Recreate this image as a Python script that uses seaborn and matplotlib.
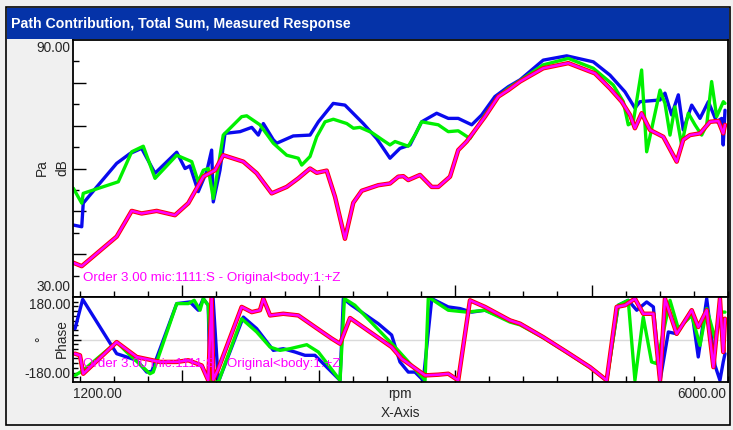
import matplotlib
matplotlib.use("Agg")
import matplotlib.pyplot as plt
import seaborn as sns
import numpy as np
from matplotlib.patches import Rectangle
from matplotlib.ticker import MultipleLocator, FixedLocator, NullFormatter

# ---------------- data ----------------
# Level (dB) panel
blue_rpm = [1202, 1264, 1275, 1374, 1520, 1618, 1703, 1801, 1960, 2021, 2057, 2118, 2180, 2216, 2228, 2277,
            2314, 2424, 2510, 2558, 2595, 2668, 2693, 2814, 2937, 2998, 3107, 3193, 3327, 3425, 3523, 3596,
            3670, 3755, 3865, 3950, 4023, 4122, 4195, 4292, 4390, 4476, 4646, 4818, 5013, 5135, 5245, 5318,
            5355, 5502, 5538, 5587, 5636, 5672, 5734, 5795, 5856, 5917, 5954, 5965, 5978]
blue_db = [46.8, 46.4, 51.9, 55.7, 61.2, 63.5, 64.7, 58.9, 63.8, 60.0, 60.6, 54.6, 59.3, 64.3, 52.2, 59.6,
           68.2, 68.6, 69.6, 67.8, 70.5, 66.7, 65.9, 67.6, 67.8, 70.9, 75.2, 74.8, 70.5, 67.0, 62.4, 64.7,
           65.5, 70.9, 72.9, 71.7, 71.7, 70.2, 72.5, 76.8, 79.1, 80.7, 85.3, 86.3, 84.9, 81.8, 77.9, 74.1,
           75.6, 76.0, 77.6, 72.5, 77.2, 69.0, 74.8, 71.7, 75.6, 70.9, 71.7, 65.5, 73.6]

green_rpm = [1202, 1264, 1275, 1532, 1630, 1715, 1801, 1960, 2070, 2118, 2155, 2191, 2228, 2301, 2436, 2473,
             2570, 2668, 2766, 2851, 2876, 2937, 2986, 3047, 3108, 3206, 3255, 3303, 3389, 3462, 3523, 3560,
             3657, 3706, 3755, 3877, 3950, 4023, 4109, 4219, 4317, 4390, 4476, 4646, 4830, 5013, 5159, 5233,
             5269, 5306, 5367, 5404, 5502, 5538, 5575, 5611, 5660, 5709, 5758, 5807, 5844, 5880, 5917, 5966, 5978]
green_db = [55.4, 51.9, 54.2, 56.9, 63.9, 65.2, 57.7, 63.1, 61.6, 56.9, 59.6, 60.0, 53.0, 67.8, 72.1, 72.3,
            70.2, 65.9, 63.1, 62.4, 60.8, 62.8, 67.4, 70.9, 71.5, 70.5, 69.4, 69.6, 68.4, 66.8, 65.5, 66.3,
            65.2, 67.8, 70.9, 70.2, 68.6, 68.8, 67.0, 72.5, 76.8, 78.7, 80.5, 84.2, 85.7, 83.4, 79.5, 75.6,
            70.2, 70.9, 83.0, 63.9, 78.3, 75.2, 67.8, 74.4, 65.5, 72.9, 70.2, 67.8, 70.2, 80.3, 72.1, 75.6, 75.2]

pink_rpm = [1202, 1264, 1520, 1630, 1703, 1813, 1947, 2045, 2155, 2241, 2301, 2448, 2546, 2656, 2766, 2851,
            2937, 2986, 3059, 3120, 3193, 3254, 3316, 3437, 3523, 3584, 3621, 3657, 3743, 3829, 3877, 3963,
            4023, 4085, 4219, 4317, 4390, 4476, 4646, 4830, 5025, 5135, 5221, 5282, 5318, 5367, 5428, 5526,
            5624, 5672, 5721, 5795, 5868, 5929, 5965, 5978]
pink_db = [38.0, 37.2, 44.1, 50.1, 49.5, 50.1, 49.1, 51.9, 58.1, 59.6, 63.1, 61.6, 58.9, 54.2, 55.7, 57.7,
           60.0, 59.0, 59.5, 53.4, 43.6, 52.0, 54.8, 56.1, 56.5, 58.1, 58.2, 57.3, 58.5, 55.7, 55.7, 58.1,
           64.3, 66.3, 72.1, 76.8, 78.3, 80.3, 83.4, 84.6, 82.2, 78.7, 75.6, 72.5, 69.4, 72.9, 69.0, 67.4,
           61.6, 66.7, 67.8, 68.2, 70.9, 71.1, 68.2, 70.2]

# Phase (deg) panel
blue_ph_rpm = [1215, 1271, 1520, 1593, 1667, 1740, 1777, 1960, 2057, 2118, 2155, 2191, 2204, 2226, 2265, 2448,
               2546, 2668, 2741, 2827, 2900, 2973, 3157, 3181, 3242, 3437, 3535, 3596, 3657, 3706, 3767, 3829,
               3950, 4036, 4122, 4219, 4402, 4476, 4646, 4818, 4989, 5111, 5196, 5269, 5331, 5404, 5453, 5502,
               5563, 5624, 5734, 5782, 5844, 5905, 5941, 5965, 5978]
blue_ph = [46, 170, -60, -74, -88, -138, -135, 152, 159, 124, 173, 145, -180, 180, -180, 95,
           46, -46, -39, -53, -67, -67, -173, 173, 145, 67, 19, -95, -138, -138, -173, 173,
           138, 131, 116, 124, 81, 67, 10, -53, -117, -173, 145, 166, 124, 159, 138, -175,
           32, 24, 124, -74, 173, -110, -173, -95, -60]

green_ph_rpm = [1215, 1276, 1520, 1593, 1764, 1788, 1960, 2045, 2088, 2131, 2155, 2191, 2216, 2265, 2436, 2546,
                2644, 2717, 2790, 2913, 2998, 3157, 3189, 3266, 3560, 3780, 3804, 3950, 4085, 4219, 4402, 4476,
                4646, 4818, 4989, 5111, 5196, 5269, 5318, 5379, 5440, 5477, 5526, 5575, 5636, 5734, 5795, 5844,
                5905, 5941, 5978]
green_ph = [-152, -130, -11, -53, -145, -138, 152, 152, 166, 124, 173, 145, -180, -180, 88, 32,
            -32, -46, -39, -22, -53, -173, 173, 145, -32, -173, 180, 124, 116, 124, 74, 62,
            8, -55, -119, -173, 145, 166, -173, 95, -95, -102, 30, 166, 46, 102, -25, 131,
            4, 116, 116]

pink_ph_rpm = [1215, 1251, 1275, 1520, 1667, 1838, 1960, 2045, 2143, 2191, 2216, 2228, 2265, 2436, 2510, 2570,
               2595, 2644, 2741, 2851, 2973, 3096, 3157, 3230, 3535, 3608, 3780, 3877, 3950, 4023, 4109, 4219,
               4402, 4476, 4646, 4818, 4989, 5111, 5184, 5245, 5318, 5379, 5453, 5502, 5538, 5624, 5734, 5782,
               5844, 5893, 5941, 5965, 5978]
pink_ph = [-60, -67, -145, -11, -74, -95, -95, -88, -110, -173, 180, -170, -124, 138, 116, 124,
           173, 102, 109, 102, 53, 4, -18, 91, -32, -81, -152, -149, -145, -173, 166, 138,
           81, 67, 10, -53, -117, -173, 138, 145, 173, 109, 109, -173, 173, 24, 124, 53,
           124, -117, 173, -53, 88]

title_text = "Path Contribution, Total Sum, Measured Response"
legend_text = "Order 3.00 mic:1111:S - Original<body:1:+Z"
x_min, x_max = 1200, 6000
db_min, db_max = 30, 90
ph_min, ph_max = -180, 180

# ---------------- style ----------------
sns.set_style("white")
plt.rcParams["font.family"] = ["Liberation Sans", "DejaVu Sans"]

W, H = 733, 430
fig = plt.figure(figsize=(W / 100, H / 100), dpi=100, facecolor="#F0F0F0")

def fx(px):
    return px / W

def fy(py):
    return 1 - py / H

# outer frame & title bar
fig.patches.append(Rectangle((fx(6), fy(425)), fx(724), 418 / H, transform=fig.transFigure,
                             facecolor="#F0F0F0", edgecolor="black", lw=1.2, zorder=-2))
fig.patches.append(Rectangle((fx(7), fy(39)), fx(722), 31 / H, transform=fig.transFigure,
                             facecolor="#0533A8", edgecolor="none", zorder=-1))
fig.text(fx(11), fy(24), title_text, color="white", fontsize=10.2, fontweight="bold",
         va="center", ha="left")

L, R = 73, 728
ax1 = fig.add_axes([fx(L), fy(297), (R - L) / W, (297 - 40) / H])
ax2 = fig.add_axes([fx(L), fy(382), (R - L) / W, (382 - 297) / H])
ax1.set_zorder(2)
ax2.set_zorder(2)

BLUE, GREEN, RED, MAG = "#0A0AEE", "#00F000", "#FF0000", "#FF00FF"
lw = 2.4

sns.lineplot(x=blue_rpm, y=blue_db, ax=ax1, color=BLUE, lw=lw, sort=False, estimator=None)
sns.lineplot(x=green_rpm, y=green_db, ax=ax1, color=GREEN, lw=lw, sort=False, estimator=None)
sns.lineplot(x=pink_rpm, y=pink_db, ax=ax1, color=RED, lw=lw + 0.8, sort=False, estimator=None)
sns.lineplot(x=pink_rpm, y=pink_db, ax=ax1, color=MAG, lw=lw - 0.6, sort=False, estimator=None)

ax2.axhline(0, color="#DADADA", lw=1, zorder=0)
sns.lineplot(x=blue_ph_rpm, y=blue_ph, ax=ax2, color=BLUE, lw=lw, sort=False, estimator=None)
sns.lineplot(x=green_ph_rpm, y=green_ph, ax=ax2, color=GREEN, lw=lw, sort=False, estimator=None)
sns.lineplot(x=pink_ph_rpm, y=pink_ph, ax=ax2, color=RED, lw=lw + 0.8, sort=False, estimator=None)
sns.lineplot(x=pink_ph_rpm, y=pink_ph, ax=ax2, color=MAG, lw=lw - 0.6, sort=False, estimator=None)

for ax in (ax1, ax2):
    ax.set_facecolor("white")
    ax.set_xlim(x_min, x_max)
    ax.set_xlabel("")
    ax.set_ylabel("")
    for s in ax.spines.values():
        s.set_color("black")
        s.set_linewidth(1.3)
    ax.xaxis.set_major_locator(FixedLocator([2000, 3000, 4000, 5000]))
    ax.xaxis.set_minor_locator(MultipleLocator(250))
    ax.tick_params(axis="both", which="both", direction="in", color="black", width=1.0,
                   labelbottom=False, labelleft=False, bottom=True, left=True, top=False, right=False)
    ax.tick_params(axis="x", which="major", length=9)
    ax.tick_params(axis="x", which="minor", length=4.5)
    ax.xaxis.set_major_formatter(NullFormatter())
    ax.yaxis.set_major_formatter(NullFormatter())

ax1.set_ylim(db_min, db_max)
ax1.yaxis.set_major_locator(FixedLocator([40, 50, 60, 70, 80]))
ax1.yaxis.set_minor_locator(FixedLocator([35, 45, 55, 65, 75, 85]))
ax1.tick_params(axis="y", which="major", length=9)
ax1.tick_params(axis="y", which="minor", length=4.5)

ax2.set_ylim(ph_min, ph_max)
ax2.yaxis.set_major_locator(FixedLocator([0]))
ax2.yaxis.set_minor_locator(FixedLocator(list(range(-160, 180, 20))))
ax2.tick_params(axis="y", which="major", length=6)
ax2.tick_params(axis="y", which="minor", length=3.5)

# axis texts
fs = 9.8
fig.text(fx(70), fy(48), "90.00", ha="right", va="center", fontsize=fs)
fig.text(fx(70), fy(287), "30.00", ha="right", va="center", fontsize=fs)
fig.text(fx(70), fy(305), "180.00", ha="right", va="center", fontsize=fs)
fig.text(fx(70), fy(374), "-180.00", ha="right", va="center", fontsize=fs)
fig.text(fx(42), fy(168), "Pa", ha="center", va="center", rotation=90, fontsize=fs)
fig.text(fx(62), fy(168), "dB", ha="center", va="center", rotation=90, fontsize=fs)
fig.text(fx(41), fy(339), "°", ha="center", va="center", rotation=90, fontsize=fs)
fig.text(fx(62), fy(339), "Phase", ha="center", va="center", rotation=90, fontsize=fs)
fig.text(fx(73), fy(394), "1200.00", ha="left", va="center", fontsize=fs)
fig.text(fx(726), fy(394), "6000.00", ha="right", va="center", fontsize=fs)
fig.text(fx(400), fy(394), "rpm", ha="center", va="center", fontsize=fs)
fig.text(fx(400), fy(413), "X-Axis", ha="center", va="center", fontsize=fs)

fig.text(fx(83), fy(278), legend_text, ha="left", va="center", fontsize=9.6, color=MAG, zorder=5)
fig.text(fx(83), fy(364), legend_text, ha="left", va="center", fontsize=9.6, color=MAG, zorder=5)

fig.savefig("out.png", dpi=100, facecolor=fig.get_facecolor())
